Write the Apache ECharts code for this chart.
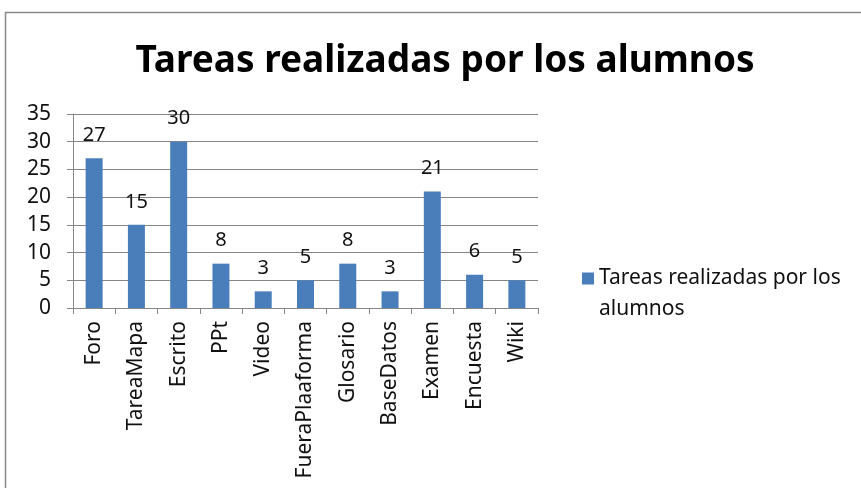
<!DOCTYPE html>
<html>
<head>
<meta charset="utf-8">
<script src="https://cdn.jsdelivr.net/npm/echarts@6/dist/echarts.min.js"></script>
<style>
  html, body { margin: 0; padding: 0; background: #fff; }
  #chart { width: 861px; height: 488px; }
</style>
</head>
<body>
<div id="chart"></div>
<script>
// datos
const categorias = ['Foro', 'TareaMapa', 'Escrito', 'PPt', 'Video', 'FueraPlaaforma', 'Glosario', 'BaseDatos', 'Examen', 'Encuesta', 'Wiki'];
const tareas = [27, 15, 30, 8, 3, 5, 8, 3, 21, 6, 5];
const serieNombre = 'Tareas realizadas por los alumnos';
const tituloTexto = 'Tareas realizadas por los alumnos';

const fuente = 'Noto Sans';
const chart = echarts.init(document.getElementById('chart'));

chart.setOption({
  animation: false,
  backgroundColor: '#fff',
  title: {
    text: tituloTexto,
    left: 440,
    textAlign: 'center',
    top: 38,
    textStyle: { fontFamily: fuente, fontSize: 37, fontWeight: 'bold', color: '#000' }
  },
  graphic: [{
    type: 'rect',
    shape: { x: 5.5, y: 12.5, width: 900, height: 520 },
    style: { fill: 'none', stroke: '#888', lineWidth: 1.5 },
    silent: true
  }],
  legend: {
    left: 577,
    top: 227,
    orient: 'vertical',
    itemWidth: 12,
    itemHeight: 12,
    itemGap: 6,
    icon: 'rect',
    data: [serieNombre],
    // linea vacia delante para que el cuadro quede junto a la primera linea
    formatter: name => '\n' + name,
    textStyle: {
      fontFamily: fuente, fontSize: 21, color: '#111',
      width: 262, overflow: 'break', lineHeight: 31
    }
  },
  grid: { left: 73, right: 323, top: 114, bottom: 180, containLabel: false },
  xAxis: {
    type: 'category',
    data: categorias,
    axisLine: { lineStyle: { color: '#868686', width: 1 } },
    axisTick: { show: true, interval: 0, length: 6, lineStyle: { color: '#868686' } },
    axisLabel: {
      interval: 0, rotate: 90, margin: 13,
      fontFamily: fuente, fontSize: 21, color: '#111'
    }
  },
  yAxis: {
    type: 'value',
    min: 0, max: 35, interval: 5,
    axisLine: { show: true, lineStyle: { color: '#868686', width: 1 } },
    axisTick: { show: true, length: 6, lineStyle: { color: '#868686' } },
    splitLine: { lineStyle: { color: '#868686', width: 1 } },
    axisLabel: { margin: 22, fontFamily: fuente, fontSize: 21, color: '#111' }
  },
  series: [{
    name: serieNombre,
    type: 'bar',
    data: tareas,
    barWidth: 17,
    itemStyle: { color: '#4A7EBB' },
    label: {
      show: true, position: 'top', distance: 13,
      fontFamily: fuente, fontSize: 20, color: '#111'
    }
  }]
});
</script>
</body>
</html>
